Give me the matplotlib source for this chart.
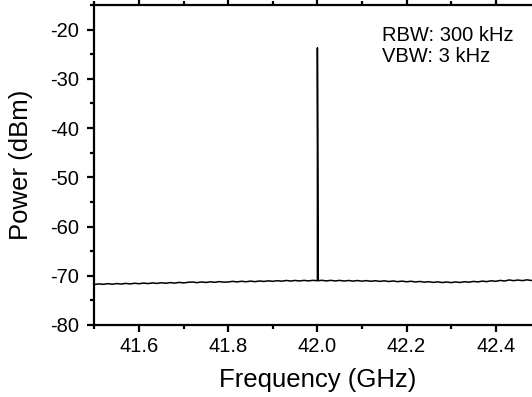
import numpy as np
import matplotlib
matplotlib.use("Agg")
import matplotlib.pyplot as plt
from matplotlib.ticker import MultipleLocator

plt.rcParams['font.family'] = ['Liberation Sans', 'DejaVu Sans']
plt.rcParams['axes.unicode_minus'] = False

# Noise floor, 0.01 GHz steps from 41.50 to 42.50
floor_start_ghz = 41.50
floor_step_ghz = 0.01
floor_power_dbm = [
    -71.78, -71.65, -71.74, -71.60, -71.72, -71.59, -71.68, -71.55, -71.66, -71.52,
    -71.62, -71.49, -71.59, -71.45, -71.55, -71.42, -71.52, -71.39, -71.49, -71.35,
    -71.45, -71.33, -71.27, -71.40, -71.26, -71.36, -71.23, -71.33, -71.19, -71.30,
    -71.26, -71.14, -71.25, -71.12, -71.22, -71.09, -71.20, -71.06, -71.16, -71.03,
    -71.13, -71.00, -71.10, -70.96, -71.07, -70.95, -71.06, -70.94, -71.04, -70.93,
    -71.00, -70.92, -71.05, -70.93, -71.06, -70.94, -71.07, -70.96, -71.09, -70.97,
    -71.10, -70.99, -71.12, -71.01, -71.14, -71.03, -71.17, -71.06, -71.20, -71.09,
    -71.22, -71.12, -71.26, -71.16, -71.30, -71.21, -71.35, -71.24, -71.38, -71.27,
    -71.39, -71.26, -71.36, -71.21, -71.31, -71.15, -71.25, -71.09, -71.19, -71.02,
    -71.13, -70.95, -71.07, -70.85, -71.00, -70.87, -70.99, -70.83, -70.96, -70.81,
    -70.92,
]

# Carrier spike at 42 GHz
spike_freq_ghz = [41.998, 42.0, 42.002]
spike_power_dbm = [-71.0, -23.7, -71.0]

x_ticks = [41.6, 41.8, 42.0, 42.2, 42.4]
y_ticks = [-80, -70, -60, -50, -40, -30, -20]
annotation = "RBW: 300 kHz\nVBW: 3 kHz"

floor_freq = floor_start_ghz + floor_step_ghz * np.arange(len(floor_power_dbm))
freq = np.concatenate([floor_freq, spike_freq_ghz])
power = np.concatenate([floor_power_dbm, spike_power_dbm])
order = np.argsort(freq, kind="stable")
freq, power = freq[order], power[order]

fig = plt.figure(figsize=(5.32, 3.97), dpi=100)
ax = fig.add_axes([0.1776, 0.1814, 0.838, 0.806])

ax.plot(freq, power, color='black', lw=1.1)

ax.set_xlim(41.5, 42.5)
ax.set_ylim(-80, -15)
ax.set_xticks(x_ticks)
ax.set_xticklabels([f"{v:.1f}" for v in x_ticks])
ax.set_yticks(y_ticks)
ax.xaxis.set_minor_locator(MultipleLocator(0.1))
ax.yaxis.set_minor_locator(MultipleLocator(5))

for s in ['left', 'bottom', 'top']:
    ax.spines[s].set_linewidth(1.6)
ax.spines['right'].set_visible(False)

ax.tick_params(axis='both', which='major', direction='out', length=5, width=1.6,
               labelsize=14.5)
ax.tick_params(axis='y', which='major', pad=6)
ax.tick_params(axis='x', which='major', pad=4)
ax.tick_params(axis='both', which='minor', direction='out', length=3, width=1.6)
ax.tick_params(axis='x', which='both', top=True)
ax.tick_params(axis='x', which='both', labeltop=False)

ax.set_xlabel("Frequency (GHz)", fontsize=18.5)
ax.set_ylabel("Power (dBm)", fontsize=18.5)
ax.xaxis.set_label_coords(0.5, -0.134)
ax.yaxis.set_label_coords(-0.138, 0.5)

ax.text(0.645, 0.935, annotation, transform=ax.transAxes, fontsize=14.5,
        va='top', ha='left', linespacing=1.15)

fig.savefig("out.png", dpi=100)
